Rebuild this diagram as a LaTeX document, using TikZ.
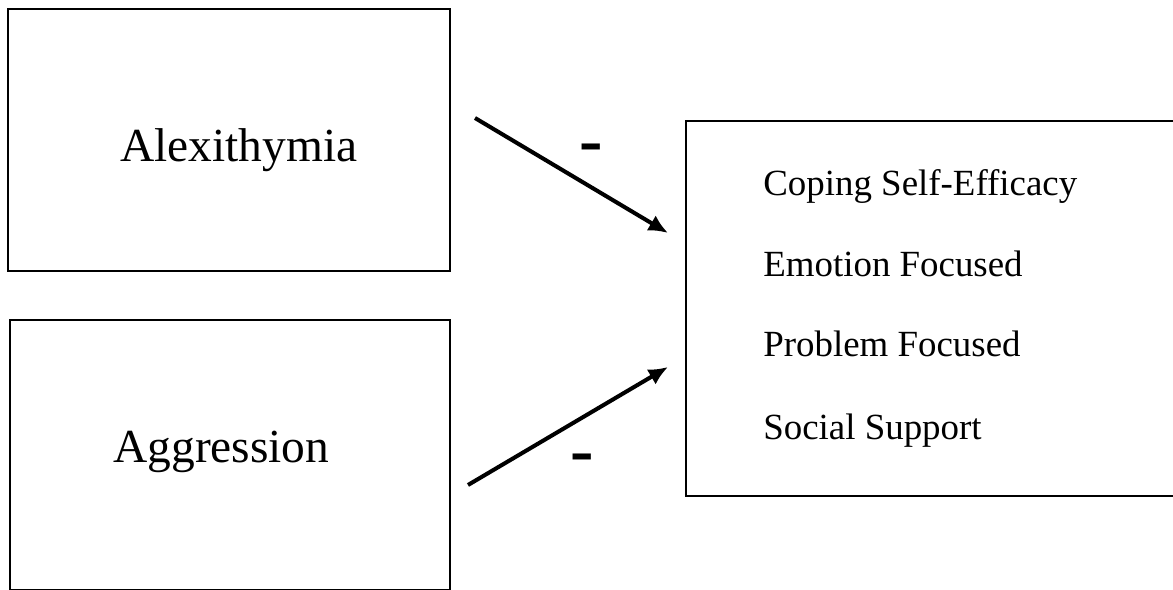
\documentclass[tikz,border=0pt]{standalone}
\usepackage{fontspec}
\setmainfont{Liberation Serif}
\usetikzlibrary{arrows.meta}
\usetikzlibrary{positioning}

\begin{document}
\begin{tikzpicture}[x=0.02cm,y=-0.02cm,
  box/.style={draw,line width=1.3pt,minimum width=#1},
  bigtext/.style={anchor=base west,inner sep=0pt,font=\fontsize{27}{32}\selectfont},
  itemtext/.style={anchor=base west,inner sep=0pt,font=\fontsize{21}{25}\selectfont},
  sign/.style={anchor=base,inner sep=0pt,font=\fontsize{40}{44}\selectfont\bfseries},
  arr/.style={line width=2.3pt,-{Latex[length=11pt,width=10pt]}}]
\clip (0,0) rectangle (1173,590);
% boxes
\node[box=8.84cm,minimum height=5.24cm] (alex) at (229,140) {};
\node[box=8.8cm,minimum height=5.4cm] (aggr) at (230,455) {};
\node[box=9.88cm,minimum height=7.5cm] (coping) at (933,308.5) {};
\node[bigtext] (alextext) at (120,162) {Alexithymia};
\node[bigtext] (aggrtext) at (113,463) {Aggression};
\node[itemtext] (cse) at (763,196) {Coping Self-Efficacy};
\node[itemtext] (emo) at (763,277) {Emotion Focused};
\node[itemtext] (prob) at (763,357) {Problem Focused};
\node[itemtext] (soc) at (763,440) {Social Support};
% paths
\coordinate (a1) at (475,118);
\coordinate (b1) at (668,233);
\coordinate (a2) at (468,485);
\coordinate (b2) at (668,367);
\draw[arr] (a1) -- (b1);
\draw[arr] (a2) -- (b2);
\node[sign] (m1) at (591.5,164) {-};
\node[sign] (m2) at (582.5,474) {-};
\end{tikzpicture}
\end{document}
